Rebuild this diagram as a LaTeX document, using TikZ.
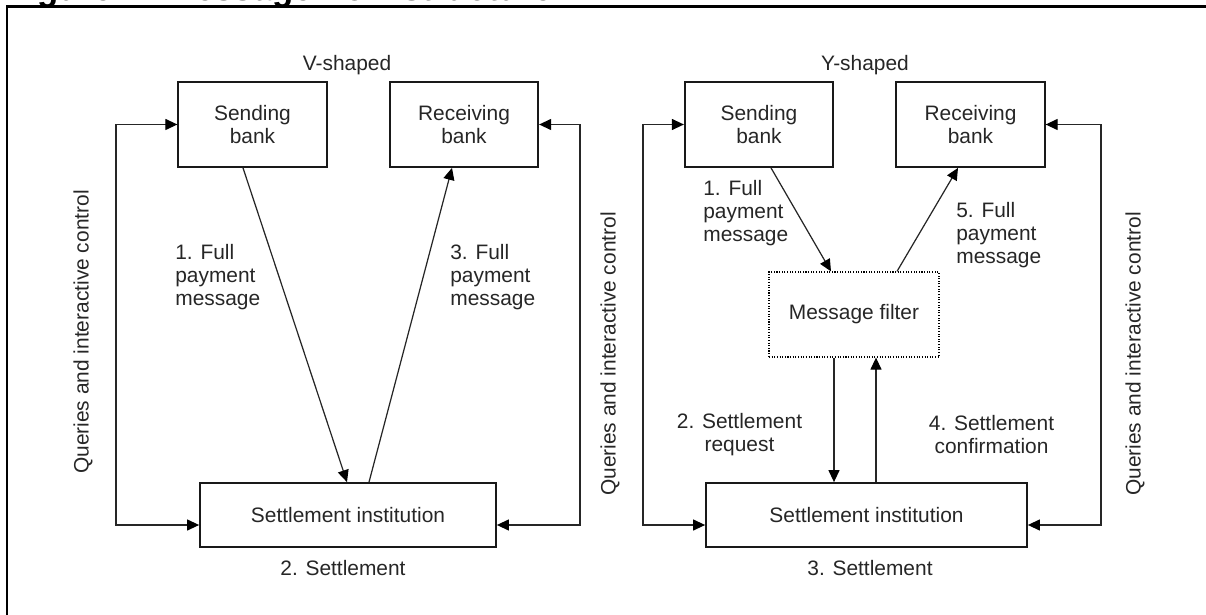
\documentclass[tikz,border=0pt]{standalone}
\usepackage{fontspec}
\setmainfont{Liberation Sans}
\usepackage{tikz}
\usetikzlibrary{arrows.meta}
\newcommand{\diagfont}{\fontsize{11.9}{13.1}\selectfont}
\tikzstyle{bank} =
[rectangle, minimum width = 2.97cm, minimum height = 1.7cm,
align = center, draw=black!90, line width = 1pt, text=black!85, font=\diagfont]
\tikzstyle{settle} =
[rectangle, minimum width = 5.92cm, minimum height = 1.28cm,
align = center, draw=black!90, line width = 1pt, text=black!85, font=\diagfont]
\tikzstyle{filter} =
[rectangle, minimum width = 3.4cm, minimum height = 1.7cm, align = center,
draw=black, line width = 0.7pt, dash pattern = on 0.6pt off 0.9pt,
text=black!85, font=\diagfont]
\tikzstyle{caption} = [inner sep=0pt, align=center, text=black!85, font=\diagfont]
\tikzstyle{msglabel} = [inner sep=0pt, anchor=west, align=left, text=black!85, font=\diagfont]
\tikzstyle{sidelabel} = [inner sep=0pt, rotate=90, text=black!85, font=\diagfont]
\tikzstyle{figtitle} = [inner sep=0pt, anchor=base west, font=\fontsize{19.8}{22}\selectfont\bfseries]
\tikzstyle{line} = [draw=black!85, line width=0.7pt,
-{Triangle[length=0.24cm, width=0.22cm, color=black]}]
\tikzstyle{twoway} = [draw=black!85, line width=0.7pt,
{Triangle[length=0.24cm, width=0.22cm, color=black]}-{Triangle[length=0.24cm, width=0.22cm, color=black]}]

\begin{document}
\begin{tikzpicture}
  \useasboundingbox (0,0) rectangle (24.12,-12.3);
  % frame and cut title
  \node [figtitle] (title) at (0.12,-0.01) {Figure 1: Message flow structure};
  \draw [line width=0.045cm] (0.14,-12.5) |- (24.3,-0.13);
  %
  % V-shaped nodes
  \node [caption] (vname) at (6.94,-1.3) {V-shaped};
  \node [bank] (sendV) at (5.05,-2.49) {Sending\\bank};
  \node [bank, right of=sendV, node distance=4.23cm] (recvV) {Receiving\\bank};
  \node [settle] (settleV) at (6.96,-10.3) {Settlement institution};
  \node [caption] (stepV) at (6.86,-11.36) {2. Settlement};
  \node [msglabel] (msg1V) at (3.5,-5.54) {1. Full\\payment\\message};
  \node [msglabel] (msg3V) at (9.0,-5.54) {3. Full\\payment\\message};
  \node [sidelabel] (queryV) at (1.66,-6.64) {Queries and interactive control};
  \coordinate (cornerVl) at (2.32,-2.49);
  \coordinate (cornerVr) at (11.6,-2.49);
  % V-shaped edges
  \path [line] ([xshift=-0.19cm]sendV.south) -- ([xshift=-0.02cm]settleV.north);
  \path [line] ([xshift=0.42cm]settleV.north) -- ([xshift=-0.24cm]recvV.south);
  \path [twoway] (sendV.west) -- (cornerVl) |- ([yshift=-0.2cm]settleV.west);
  \path [twoway] (recvV.east) -- (cornerVr) |- ([yshift=-0.2cm]settleV.east); %|
  %
  % Y-shaped nodes
  \node [caption] (yname) at (17.3,-1.3) {Y-shaped};
  \node [bank, right of=sendV, node distance=10.13cm] (sendY) {Sending\\bank};
  \node [bank, right of=sendY, node distance=4.23cm] (recvY) {Receiving\\bank};
  \node [filter] (filterY) at (17.08,-6.29) {Message filter};
  \node [settle, right of=settleV, node distance=10.37cm, minimum width=6.42cm]
   (settleY) {Settlement institution};
  \node [caption] (stepY) at (17.4,-11.36) {3. Settlement};
  \node [msglabel] (msg1Y) at (14.06,-4.26) {1. Full\\payment\\message};
  \node [msglabel] (msg5Y) at (19.12,-4.7) {5. Full\\payment\\message};
  \node [caption] (req2Y) at (14.79,-8.7) {2. Settlement\\request};
  \node [caption] (conf4Y) at (19.83,-8.7) {4. Settlement\\confirmation};
  \node [sidelabel] (queryYl) at (12.2,-7.08) {Queries and interactive control};
  \node [sidelabel] (queryYr) at (22.7,-7.08) {Queries and interactive control};
  \coordinate (cornerYl) at (12.86,-2.49);
  \coordinate (cornerYr) at (22.02,-2.49);
  % Y-shaped edges
  \path [line] ([xshift=0.24cm]sendY.south) -- ([xshift=-0.46cm]filterY.north);
  \path [line] ([xshift=0.86cm]filterY.north) -- ([xshift=-0.25cm]recvY.south);
  \path [line] ([xshift=-0.4cm]filterY.south) -- ([xshift=-0.4cm]filterY.south |- settleY.north);
  \path [line] ([xshift=0.44cm]filterY.south |- settleY.north) -- ([xshift=0.44cm]filterY.south);
  \path [twoway] (sendY.west) -- (cornerYl) |- ([yshift=-0.2cm]settleY.west);
  \path [twoway] (recvY.east) -- (cornerYr) |- ([yshift=-0.2cm]settleY.east); %|
\end{tikzpicture}
\end{document}
